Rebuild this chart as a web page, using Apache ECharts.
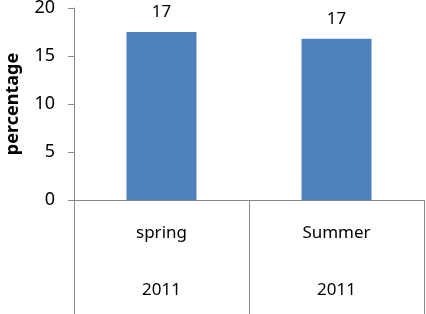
<!DOCTYPE html>
<html><head><meta charset="utf-8">
<script src="https://cdn.jsdelivr.net/npm/echarts@6/dist/echarts.min.js"></script>
<style>html,body{margin:0;padding:0;background:#fff}#c{width:426px;height:314px}</style>
</head><body><div id="c"></div>
<script>
const categories = ['spring', 'Summer'];
const years = ['2011', '2011'];
const values = [17.5, 16.8];
const valueLabels = ['17', '17'];
const yTicks = [0, 5, 10, 15, 20];

const chart = echarts.init(document.getElementById('c'), null, {renderer: 'canvas'});
const font = 'Noto Sans';
chart.setOption({
  animation: false,
  grid: {left: 74, right: 2, top: 8, bottom: 114, containLabel: false, outerBoundsMode: 'none'},
  xAxis: {
    type: 'category',
    data: categories.map((c, i) => c + '\n' + years[i]),
    boundaryGap: true,
    axisLine: {lineStyle: {color: '#868686', width: 1}},
    axisTick: {show: true, length: 114, lineStyle: {color: '#868686', width: 1}},
    axisLabel: {color: '#000', fontFamily: font, fontSize: 17, lineHeight: 57, margin: 5}
  },
  yAxis: {
    type: 'value', min: yTicks[0], max: yTicks[yTicks.length - 1], interval: 5,
    name: 'percentage', nameLocation: 'middle', nameGap: 52, nameRotate: 90,
    nameTextStyle: {color: '#000', fontFamily: font, fontSize: 18, fontWeight: 'bold'},
    axisLine: {show: true, lineStyle: {color: '#868686'}},
    axisTick: {show: true, length: 6, lineStyle: {color: '#868686'}},
    splitLine: {show: false},
    axisLabel: {color: '#000', fontFamily: font, fontSize: 18, margin: 19}
  },
  series: [{
    type: 'bar',
    data: values,
    barWidth: '40%',
    itemStyle: {color: '#4F81BD'},
    label: {show: true, position: 'top', distance: 11, color: '#000', fontFamily: font, fontSize: 17,
      formatter: p => valueLabels[p.dataIndex]}
  }]
});
</script></body></html>
